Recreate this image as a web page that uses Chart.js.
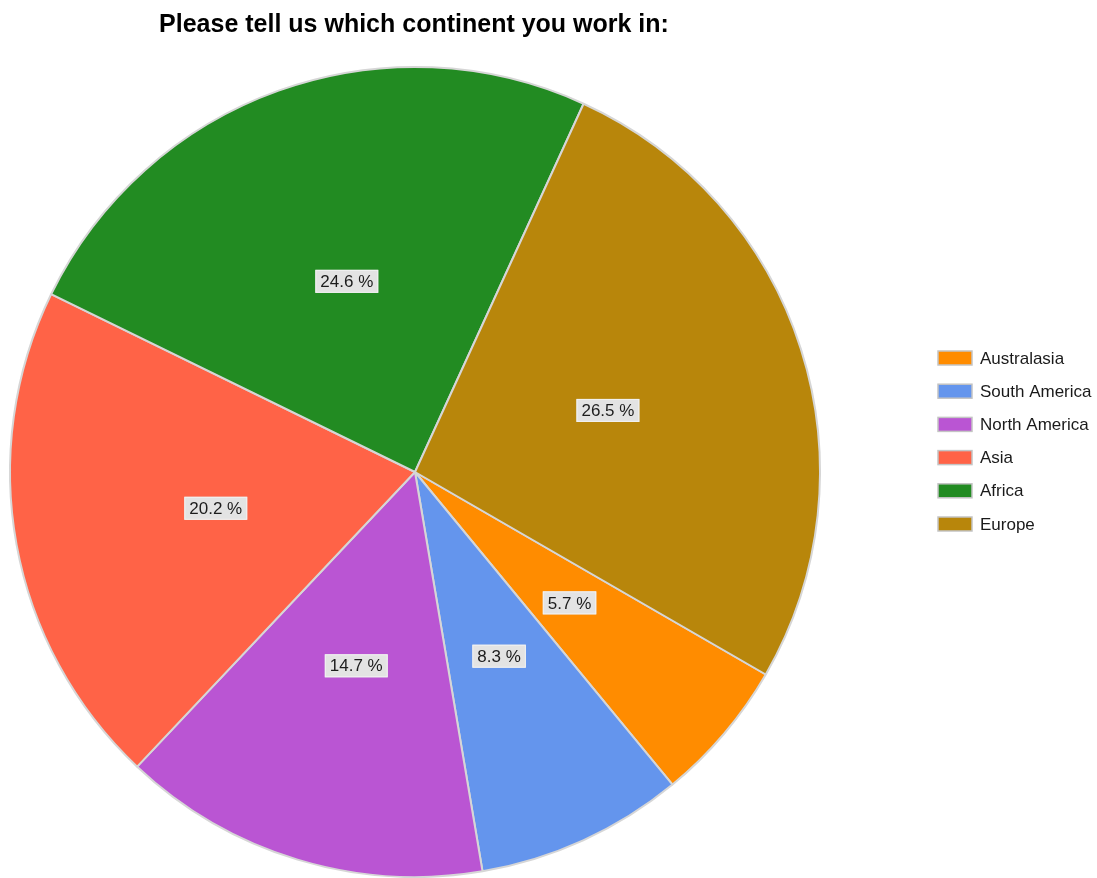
<!DOCTYPE html>
<html>
<head>
<meta charset="utf-8">
<script src="https://cdn.jsdelivr.net/npm/chart.js@4/dist/chart.umd.min.js"></script>
<style>
  body { margin: 0; background: #fff; }
  canvas { display: block; }
</style>
</head>
<body>
<canvas id="myChart" width="1097" height="878"></canvas>
<script>
// survey answers, percent of respondents -------------------------------
const titleText = 'Please tell us which continent you work in:';
const continents = ['Australasia', 'South America', 'North America', 'Asia', 'Africa', 'Europe'];
const shares = [5.7, 8.3, 14.7, 20.2, 24.6, 26.5];
const sliceColors = ['#FF8C00', '#6495ED', '#BA55D3', '#FF6347', '#228B22', '#B8860B'];

// percent boxes in the middle of each slice
const sliceLabels = {
  id: 'sliceLabels',
  afterDatasetsDraw(chart) {
    const ctx = chart.ctx;
    const meta = chart.getDatasetMeta(0);
    ctx.save();
    ctx.font = '17px "Liberation Sans", Arial, sans-serif';
    ctx.textAlign = 'center';
    ctx.textBaseline = 'middle';
    meta.data.forEach((arc, i) => {
      const p = arc.getCenterPoint();
      const txt = shares[i].toFixed(1) + ' %';
      const w = ctx.measureText(txt).width + 10;
      const h = 23;
      ctx.fillStyle = '#e3e3e3';
      ctx.fillRect(p.x - w / 2, p.y - h / 2, w, h);
      ctx.strokeStyle = '#f2f2f2';
      ctx.lineWidth = 1;
      ctx.strokeRect(p.x - w / 2 + 0.5, p.y - h / 2 + 0.5, w - 1, h - 1);
      ctx.fillStyle = '#1c1c1c';
      ctx.fillText(txt, p.x, p.y + 1);
    });
    ctx.restore();
  }
};

// title and legend drawn by hand so they sit where we want them
const titleAndLegend = {
  id: 'titleAndLegend',
  afterDraw(chart) {
    const ctx = chart.ctx;
    ctx.save();
    ctx.fillStyle = '#000';
    ctx.font = 'bold 25px "Liberation Sans", Arial, sans-serif';
    ctx.textAlign = 'center';
    ctx.textBaseline = 'middle';
    ctx.fillText(titleText, 414, 25);

    ctx.font = '17px "Liberation Sans", Arial, sans-serif';
    ctx.textAlign = 'left';
    chart.data.labels.forEach((lbl, i) => {
      const y = 358 + i * 33.2;
      ctx.fillStyle = chart.data.datasets[0].backgroundColor[i];
      ctx.fillRect(938, y - 7, 34, 14);
      ctx.strokeStyle = '#c4c4c4';
      ctx.lineWidth = 1.5;
      ctx.strokeRect(938, y - 7, 34, 14);
      ctx.fillStyle = '#1a1a1a';
      ctx.fillText(lbl, 980, y + 1);
    });
    ctx.restore();
  }
};

const ctx = document.getElementById('myChart').getContext('2d');
const myChart = new Chart(ctx, {
  type: 'pie',
  data: {
    labels: continents,
    datasets: [{
      data: shares,
      backgroundColor: sliceColors,
      borderColor: '#d6d6d6',
      borderWidth: 2
    }]
  },
  options: {
    responsive: false,
    animation: false,
    rotation: 120,
    layout: {
      padding: { left: 8, top: 66, right: 275, bottom: 0 }
    },
    plugins: {
      legend: { display: false },
      title: { display: false },
      tooltip: { enabled: false }
    }
  },
  plugins: [sliceLabels, titleAndLegend]
});
</script>
</body>
</html>
